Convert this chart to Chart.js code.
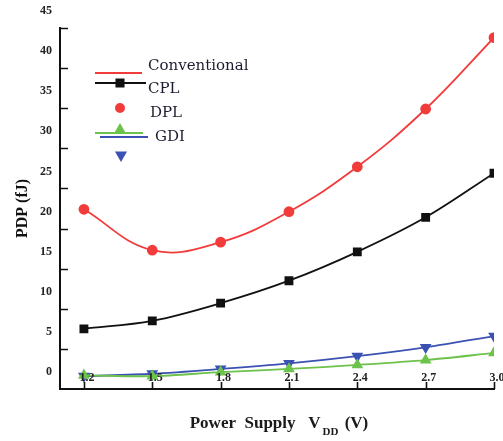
<!DOCTYPE html>
<html>
<head>
<meta charset="utf-8">
<script src="https://cdn.jsdelivr.net/npm/chart.js@4.4.1/dist/chart.umd.min.js"></script>
<style>
  html, body { margin: 0; padding: 0; background: #fff; }
  #wrap { width: 503px; height: 441px; position: relative; }
</style>
</head>
<body>
<div id="wrap"><canvas id="myChart" width="503" height="441"></canvas></div>
<script>
'use strict';

// supply voltages (V)
const voltages = [1.2, 1.5, 1.8, 2.1, 2.4, 2.7, 3.0];
const voltageLabels = ['1.2', '1.5', '1.8', '2.1', '2.4', '2.7', '3.0'];
// PDP values (fJ)
const convValues = [22.4, 17.3, 18.3, 22.1, 27.7, 34.9, 43.8];
const cplValues  = [7.5, 8.5, 10.7, 13.5, 17.1, 21.4, 26.9];
const gdiValues  = [1.7, 1.6, 2.1, 2.5, 3.0, 3.6, 4.5];
const dplValues  = [1.6, 1.9, 2.5, 3.2, 4.1, 5.2, 6.6];
const yTicks = [0, 5, 10, 15, 20, 25, 30, 35, 40, 45];
const legendNames = ['Conventional', 'CPL', 'DPL', 'GDI'];

const RED = '#f23b3b';
const BLACK = '#111111';
const GREEN = '#6dc24b';
const BLUE = '#3b52b3';
const SERIF = '"Liberation Serif", "Times New Roman", serif';

function toPoints(values){
    return voltages.map((v, i) => ({ x: v, y: values[i] }));
}

// inward tick marks and the x labels sitting inside the plot, like the original
const innerTicks = {
    id: 'innerTicks',
    afterDraw(chart){
        const ctx = chart.ctx;
        const x = chart.scales.x, y = chart.scales.y;
        ctx.save();
        ctx.strokeStyle = '#111';
        ctx.lineWidth = 1.6;
        ctx.beginPath();
        yTicks.forEach(t => {
            if(t === 0) return;
            let py = Math.round(y.getPixelForValue(t)) + 0.5;
            ctx.moveTo(x.left, py);
            ctx.lineTo(x.left + 8, py);
        });
        voltages.forEach(v => {
            let px = Math.round(x.getPixelForValue(v)) + 0.5;
            ctx.moveTo(px, y.bottom);
            ctx.lineTo(px, y.bottom - 7);
        });
        ctx.stroke();

        ctx.fillStyle = '#222';
        ctx.font = 'bold 12px ' + SERIF;
        ctx.textAlign = 'center';
        ctx.textBaseline = 'middle';
        voltages.forEach((v, i) => {
            ctx.fillText(voltageLabels[i], x.getPixelForValue(v) + 3, y.bottom - 11);
        });
        ctx.restore();
    }
};

// x axis title with subscript
const xTitle = {
    id: 'xTitle',
    afterDraw(chart){
        const ctx = chart.ctx;
        const area = chart.chartArea;
        const partA = 'Power  Supply   V';
        const partB = 'DD';
        const partC = ' (V)';
        ctx.save();
        ctx.fillStyle = '#1a1a1a';
        ctx.textBaseline = 'alphabetic';
        ctx.font = 'bold 17px ' + SERIF;
        let wA = ctx.measureText(partA).width;
        let wC = ctx.measureText(partC).width;
        ctx.font = 'bold 11px ' + SERIF;
        let wB = ctx.measureText(partB).width;
        let start = (area.left + area.right) / 2 - (wA + wB + wC) / 2;
        let base = 428;
        ctx.font = 'bold 17px ' + SERIF;
        ctx.fillText(partA, start, base);
        ctx.font = 'bold 11px ' + SERIF;
        ctx.fillText(partB, start + wA + 2, base + 7);
        ctx.font = 'bold 17px ' + SERIF;
        ctx.fillText(partC, start + wA + wB + 4, base);
        ctx.restore();
    }
};

// legend as it appears in the figure (symbols and names are staggered)
const figureLegend = {
    id: 'figureLegend',
    afterDraw(chart){
        const ctx = chart.ctx;
        const draw = Chart.helpers.drawPoint;
        ctx.save();
        ctx.lineWidth = 2;

        ctx.strokeStyle = RED;
        ctx.beginPath(); ctx.moveTo(95, 73); ctx.lineTo(142, 73); ctx.stroke();

        ctx.strokeStyle = BLACK;
        ctx.beginPath(); ctx.moveTo(95, 83); ctx.lineTo(146, 83); ctx.stroke();
        ctx.fillStyle = BLACK;
        draw(ctx, { pointStyle: 'rect', radius: 5, borderWidth: 1 }, 120, 83);

        ctx.fillStyle = RED; ctx.strokeStyle = RED;
        draw(ctx, { pointStyle: 'circle', radius: 4, borderWidth: 1 }, 120, 108);

        ctx.strokeStyle = GREEN;
        ctx.beginPath(); ctx.moveTo(95, 133); ctx.lineTo(143, 133); ctx.stroke();
        ctx.fillStyle = GREEN;
        draw(ctx, { pointStyle: 'triangle', radius: 5, borderWidth: 1 }, 120, 130);

        ctx.strokeStyle = BLUE;
        ctx.beginPath(); ctx.moveTo(100, 137); ctx.lineTo(148, 137); ctx.stroke();
        ctx.fillStyle = BLUE;
        draw(ctx, { pointStyle: 'triangle', radius: 5, borderWidth: 1, rotation: 180 }, 121, 155);

        ctx.fillStyle = '#1c1c30';
        ctx.font = '15px "DejaVu Serif", serif';
        ctx.textBaseline = 'middle';
        ctx.fillText(legendNames[0], 148, 66);
        ctx.fillText(legendNames[1], 148, 89);
        ctx.fillText(legendNames[2], 150, 113);
        ctx.fillText(legendNames[3], 155, 137);
        ctx.restore();
    }
};

const config = {
    type: 'line',
    data: {
        datasets: [{
            label: legendNames[0],
            data: toPoints(convValues),
            borderColor: RED,
            backgroundColor: RED,
            pointStyle: 'circle',
            pointRadius: 4.5,
            borderWidth: 1.8,
            tension: 0.4
        }, {
            label: legendNames[1],
            data: toPoints(cplValues),
            borderColor: BLACK,
            backgroundColor: BLACK,
            pointStyle: 'rect',
            pointRadius: 5,
            borderWidth: 1.8,
            tension: 0.35
        }, {
            label: legendNames[3],
            data: toPoints(gdiValues),
            borderColor: GREEN,
            backgroundColor: GREEN,
            pointStyle: 'triangle',
            pointRadius: 5,
            borderWidth: 1.8,
            tension: 0.3
        }, {
            label: legendNames[2],
            data: toPoints(dplValues),
            borderColor: BLUE,
            backgroundColor: BLUE,
            pointStyle: 'triangle',
            rotation: 180,
            pointRadius: 5,
            borderWidth: 1.8,
            tension: 0.3
        }]
    },
    options: {
        responsive: false,
        animation: false,
        layout: { padding: { left: 0, right: 9, top: 28, bottom: 0 } },
        plugins: { legend: { display: false }, tooltip: { enabled: false } },
        scales: {
            x: {
                type: 'linear',
                min: 1.095,
                max: 3.0,
                afterBuildTicks: (scale) => { scale.ticks = voltages.map(v => ({ value: v })); },
                afterFit: (scale) => { scale.height = 52; },
                grid: { display: false, drawTicks: false },
                border: { display: true, color: '#111', width: 2 },
                ticks: { display: false }
            },
            y: {
                min: 0,
                max: 45,
                afterBuildTicks: (scale) => { scale.ticks = yTicks.map(v => ({ value: v })); },
                afterFit: (scale) => { scale.width = 60; },
                grid: { display: false, drawTicks: false },
                border: { display: true, color: '#111', width: 2 },
                ticks: {
                    padding: 8,
                    labelOffset: -17,
                    color: '#222',
                    font: { family: SERIF, size: 12, weight: 'bold' }
                },
                title: {
                    display: true,
                    text: 'PDP (fJ)',
                    color: '#111',
                    font: { family: SERIF, size: 16, weight: 'bold' },
                    padding: { top: 13, bottom: 0 }
                }
            }
        }
    },
    plugins: [innerTicks, xTitle, figureLegend]
};

const myChart = new Chart(document.getElementById('myChart'), config);
</script>
</body>
</html>
